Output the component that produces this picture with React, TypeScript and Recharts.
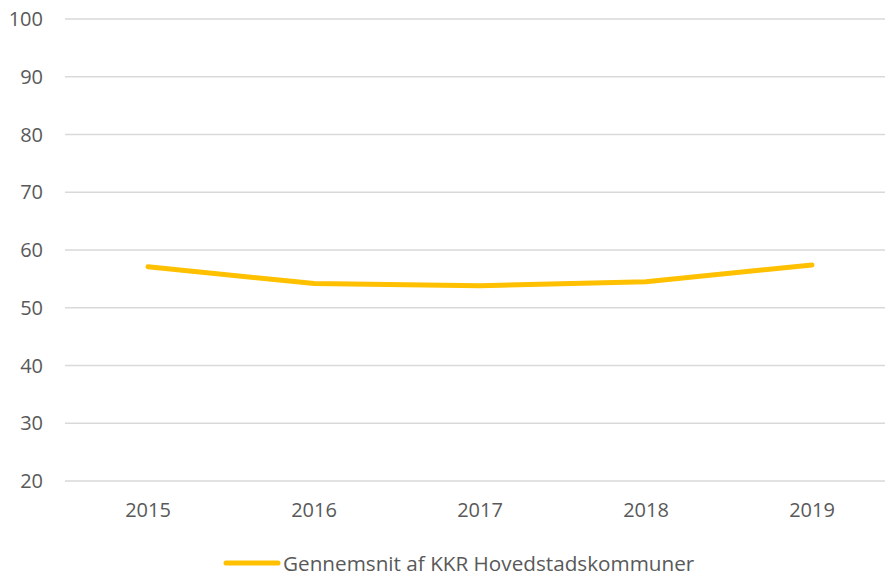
import { CartesianGrid, Legend, Line, LineChart, XAxis, YAxis } from "recharts";

const YEARS = ["2015", "2016", "2017", "2018", "2019"];
const AVERAGE = [57.1, 54.2, 53.8, 54.5, 57.4];
const Y_TICKS = [20, 30, 40, 50, 60, 70, 80, 90, 100];
const SERIES_NAME = "Gennemsnit af KKR Hovedstadskommuner";

const data = YEARS.map((year, i) => ({ year, value: AVERAGE[i] }));

const FONT = "'Open Sans', sans-serif";
const TEXT = "#595959";

function LegendContent() {
  return (
    <div
      style={{
        display: "flex",
        alignItems: "center",
        marginLeft: 223,
        marginTop: 30,
        height: 24,
        lineHeight: "24px",
        fontFamily: FONT,
        fontSize: 20.7,
        color: TEXT,
      }}
    >
      <svg width={58} height={8} style={{ marginRight: 2 }}>
        <line x1={3} y1={4} x2={55} y2={4} stroke="#FFC000" strokeWidth={5} strokeLinecap="round" />
      </svg>
      <span>{SERIES_NAME}</span>
    </div>
  );
}

export default function App() {
  return (
    <div style={{ position: "absolute", left: 0, top: 0, width: 885, height: 577, overflow: "hidden", background: "#fff" }}>
      <LineChart width={895} height={577} data={data} margin={{ top: 19, right: 0, left: 0, bottom: 0 }}>
        <CartesianGrid vertical={false} stroke="#d9d9d9" strokeWidth={1.5} />
        <XAxis
          dataKey="year"
          padding={{ left: 83, right: 83 }}
          axisLine={false}
          tickLine={false}
          tickSize={0}
          tickMargin={22}
          height={40}
          tick={{ fill: TEXT, fontSize: 20, fontFamily: FONT }}
        />
        <YAxis
          domain={[20, 100]}
          ticks={Y_TICKS}
          width={65}
          axisLine={false}
          tickLine={false}
          tickSize={0}
          tickMargin={22}
          tick={{ fill: TEXT, fontSize: 20, fontFamily: FONT }}
        />
        <Legend verticalAlign="bottom" height={56} content={<LegendContent />} />
        <Line
          dataKey="value"
          name={SERIES_NAME}
          stroke="#FFC000"
          strokeWidth={5}
          strokeLinecap="round"
          dot={false}
          activeDot={false}
          isAnimationActive={false}
        />
      </LineChart>
    </div>
  );
}
